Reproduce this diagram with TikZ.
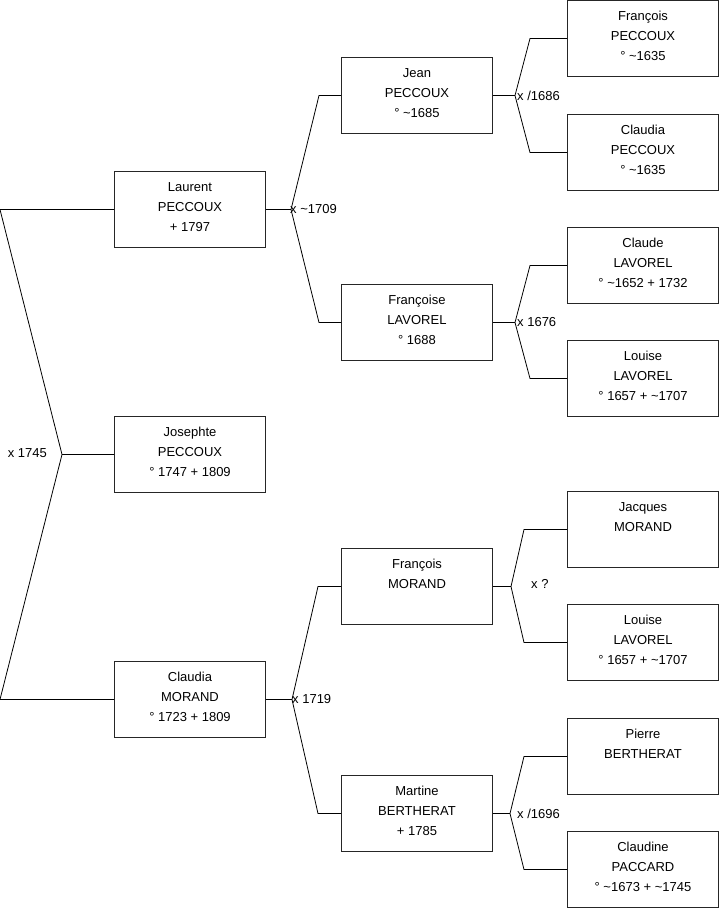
\documentclass[tikz,border=0pt]{standalone}
\usepackage{fontspec}
\setmainfont{Liberation Sans}
\usetikzlibrary{calc}
\tikzset{
  pbox/.style={draw=black!85, line width=1pt, minimum width=151pt, minimum height=76pt, inner sep=0pt, anchor=north west},
  ptext/.style={anchor=base, inner sep=0pt, font=\fontsize{13}{20}\selectfont},
  conn/.style={draw=black, line width=0.8pt},
  mlabel/.style={inner sep=0pt, font=\fontsize{13}{20}\selectfont},
}
\newcommand{\person}[4]{%
  \node[pbox] (#1) at (#2,#3) {};
  \node[ptext] (#1t) at ($(#1.north)+(0,20.5)$) {\begin{tabular}[t]{@{}c@{}}#4\end{tabular}};
}
\begin{document}
\begin{tikzpicture}[x=1pt,y=-1pt]
\useasboundingbox (0,0) rectangle (719,908);
% column 1
\person{lau}{114}{171}{Laurent\\PECCOUX\\+ 1797}
\person{jos}{114}{416}{Josephte\\PECCOUX\\° 1747 + 1809}
\person{cla}{114}{661}{Claudia\\MORAND\\° 1723 + 1809}
% column 2
\person{jea}{341}{57}{Jean\\PECCOUX\\° \textasciitilde1685}
\person{fse}{341}{284}{Françoise\\LAVOREL\\° 1688}
\person{fmo}{341}{548}{François\\MORAND}
\person{mar}{341}{775}{Martine\\BERTHERAT\\+ 1785}
% column 3
\person{ca}{567}{0}{François\\PECCOUX\\° \textasciitilde1635}
\person{cb}{567}{114}{Claudia\\PECCOUX\\° \textasciitilde1635}
\person{cc}{567}{227}{Claude\\LAVOREL\\° \textasciitilde1652 + 1732}
\person{cd}{567}{340}{Louise\\LAVOREL\\° 1657 + \textasciitilde1707}
\person{ce}{567}{491}{Jacques\\MORAND}
\person{cf}{567}{604}{Louise\\LAVOREL\\° 1657 + \textasciitilde1707}
\person{cg}{567}{718}{Pierre\\BERTHERAT}
\person{ch}{567}{831}{Claudine\\PACCARD\\° \textasciitilde1673 + \textasciitilde1745}
% root fork
\coordinate (rv) at (62,0 |- jos.west);
\draw[conn] (lau.west) -- (0,0 |- lau.west) -- (rv) -- (0,0 |- cla.west) -- (cla.west);
\draw[conn] (jos.west) -- (rv);
\node[mlabel, anchor=east] (l0) at (47,453) {x 1745};
% Laurent fork
\coordinate (v1) at (291,0 |- lau.east);
\draw[conn] (lau.east) -- (v1);
\draw[conn] (jea.west) -- (319,0 |- jea.west) -- (v1) -- (319,0 |- fse.west) -- (fse.west);
\node[mlabel, anchor=west] (l1) at (290,0 |- lau.east) {x \textasciitilde1709};
% Claudia fork
\coordinate (v2) at (292,0 |- cla.east);
\draw[conn] (cla.east) -- (v2);
\draw[conn] (fmo.west) -- (318,0 |- fmo.west) -- (v2) -- (318,0 |- mar.west) -- (mar.west);
\node[mlabel, anchor=west] (l2) at (292,0 |- cla.east) {x 1719};
% Jean fork
\coordinate (v3) at (515,0 |- jea.east);
\draw[conn] (jea.east) -- (v3);
\draw[conn] (ca.west) -- (530,0 |- ca.west) -- (v3) -- (530,0 |- cb.west) -- (cb.west);
\node[mlabel, anchor=west] (l3) at (517,0 |- jea.east) {x /1686};
% Francoise fork
\coordinate (v4) at (515,0 |- fse.east);
\draw[conn] (fse.east) -- (v4);
\draw[conn] (cc.west) -- (530,0 |- cc.west) -- (v4) -- (530,0 |- cd.west) -- (cd.west);
\node[mlabel, anchor=west] (l4) at (517,0 |- fse.east) {x 1676};
% Francois Morand fork
\coordinate (v5) at (511,0 |- fmo.east);
\draw[conn] (fmo.east) -- (v5);
\draw[conn] (ce.west) -- (524,0 |- ce.west) -- (v5) -- (524,0 |- cf.west) -- (cf.west);
\node[mlabel, anchor=west] (l5) at (531,584) {x ?};
% Martine fork
\coordinate (v6) at (510,0 |- mar.east);
\draw[conn] (mar.east) -- (v6);
\draw[conn] (cg.west) -- (524,0 |- cg.west) -- (v6) -- (524,0 |- ch.west) -- (ch.west);
\node[mlabel, anchor=west] (l6) at (517,0 |- mar.east) {x /1696};
\end{tikzpicture}
\end{document}
